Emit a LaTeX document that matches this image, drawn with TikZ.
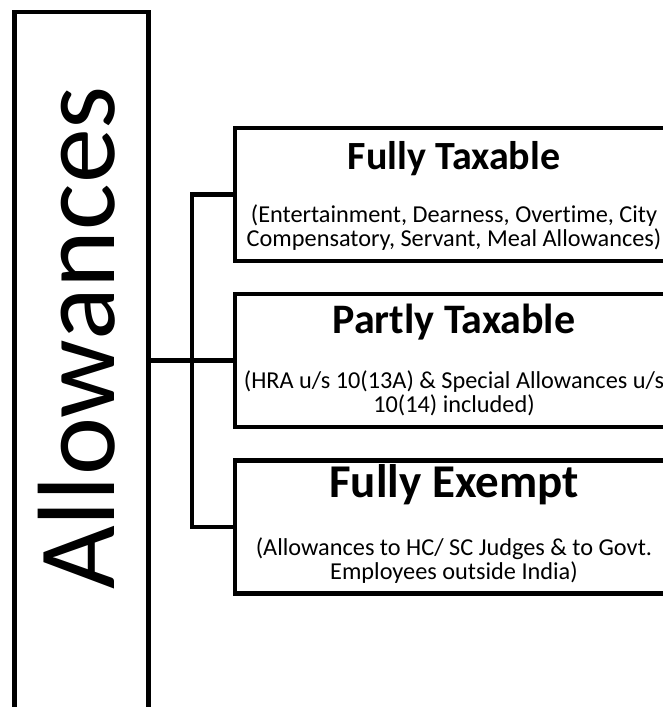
\documentclass[tikz,border=0pt]{standalone}
\usepackage{fontspec}
\setmainfont[Ligatures=NoCommon]{Carlito}
\usepackage{xcolor}
\usetikzlibrary{positioning}
\tikzset{
    rootbox/.style={draw,line width=4.5pt,minimum width=134pt,minimum height=728pt,inner sep=0pt},
    catbox/.style={draw,line width=4.5pt,minimum width=438pt,minimum height=133pt,inner sep=0pt},
    cattitle/.style={anchor=base,font=\bfseries\fontsize{#1}{#1}\selectfont},
    catnote/.style={anchor=base,font=\fontsize{24.3}{24.3}\selectfont},
    conn/.style={line width=4.5pt},
}
\newcommand{\category}[7] {
    \node[catbox] (#1) at (454,#2) {};
    \node[cattitle=#3] (#1T) at (454,{#2-#4}) {#5};
    \node[catnote] (#1A) at (454,{#2+28}) {#6};
    \node[catnote] (#1B) at (454,{#2+52}) {#7};
}

\begin{document}
\begin{tikzpicture}[x=1pt,y=-1pt]
    \useasboundingbox (0,0) rectangle (662,707);
    \node[rootbox] (allow) at (81.5,376) {};
    \node[rotate=90,anchor=base,font=\fontsize{110}{110}\selectfont] (allowT) at (114,338) {Allowances};
    \category{full}{194.5}{40}{25}{Fully Taxable}
        {(Entertainment, Dearness, Overtime, City}{Compensatory, Servant, Meal Allowances)}
    \category{part}{360.5}{42}{27}{Partly Taxable}
        {(HRA u/s 10(13A) \& Special Allowances u/s}{10(14) included)}
    \category{exempt}{527}{47}{30}{Fully Exempt}
        {(Allowances to HC/ SC Judges \& to Govt.}{Employees outside India)}
    \coordinate (trunk) at (192,0);
    \draw[conn] (allow.east |- part.west) -- (part.west);
    \draw[conn] (full.west) -| (trunk |- exempt.west) -- (exempt.west);
\end{tikzpicture}
\end{document}
